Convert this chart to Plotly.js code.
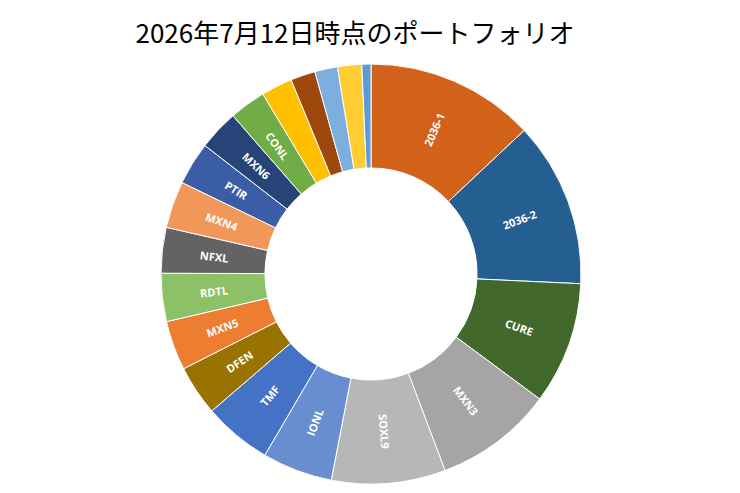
<!DOCTYPE html>
<html>
<head>
<meta charset="utf-8">
<script src="https://cdn.plot.ly/plotly-3.0.1.min.js"></script>
<style>html,body{margin:0;padding:0;background:#fff;}#chart{width:740px;height:493px;}</style>
</head>
<body>
<div id="chart"></div>
<script>
// Portfolio composition (percent), clockwise from 12 o'clock
const labels = ["2036-1","2036-2","CURE","MXN3","SOXL9","IONL","TMF","DFEN","MXN5","RDTL","NFXL","MXN4","PTIR","MXN6","CONL","其他1","其他2","其他3","其他4","其他5"];
const shownText = ["2036-1","2036-2","CURE","MXN3","SOXL9","IONL","TMF","DFEN","MXN5","RDTL","NFXL","MXN4","PTIR","MXN6","CONL","","","","",""];
const values = [13.0,12.7,9.4,9.1,8.75,5.4,5.25,3.85,3.8,3.7,3.5,3.6,3.3,3.1,2.8,2.4,1.9,1.75,1.85,0.7];
const colors = ["#D2611A","#255E91","#43682B","#A5A5A5","#B7B7B7","#698ED0","#4472C4","#997300","#ED7D31","#8CC168","#636363","#F1975A","#3A5DA6","#264478","#70AD47","#FFC000","#9E480E","#7CAFDD","#FFCD33","#5B9BD5"];
const titleText = "2026年7月12日時点のポートフォリオ";

const W = 740, H = 493, cx = 371, cy = 274, r = 210, hole = 0.505;

const trace = {
  type: "pie",
  labels: labels,
  values: values,
  textinfo: "none",
  sort: false,
  direction: "clockwise",
  rotation: 0,
  hole: hole,
  marker: {colors: colors, line: {color: "#ffffff", width: 1}},
  hoverinfo: "label+percent",
  domain: {x: [(cx - r) / W, (cx + r) / W], y: [(H - cy - r) / H, (H - cy + r) / H]},
  showlegend: false
};

// Data labels placed mid-ring, oriented radially (as in the source chart)
const total = values.reduce((a, b) => a + b, 0);
const rm = r * (1 + hole) / 2;
const annotations = [];
let cum = 0;
values.forEach((v, i) => {
  const theta = 360 * (cum + v / 2) / total;
  cum += v;
  if (!shownText[i]) return;
  const t = theta * Math.PI / 180;
  let ang = theta - 90;
  if (ang > 90) ang -= 180;
  if (ang < -90) ang += 180;
  annotations.push({
    xref: "paper", yref: "paper",
    x: (cx + rm * Math.sin(t)) / W,
    y: 1 - (cy - rm * Math.cos(t)) / H,
    xanchor: "center", yanchor: "middle",
    text: shownText[i], showarrow: false, textangle: ang,
    font: {family: "Open Sans, sans-serif", size: 11, color: "#ffffff", weight: "bold"}
  });
});

const layout = {
  width: W, height: H,
  margin: {l: 0, r: 0, t: 0, b: 0},
  paper_bgcolor: "#ffffff",
  title: {
    text: titleText,
    font: {family: "Noto Sans CJK JP, sans-serif", size: 26, color: "#000000"},
    x: 355 / W, xanchor: "center",
    y: 1 - 34 / H, yanchor: "middle"
  },
  annotations: annotations,
  showlegend: false
};

Plotly.newPlot("chart", [trace], layout, {displayModeBar: false, staticPlot: true});
</script>
</body>
</html>
